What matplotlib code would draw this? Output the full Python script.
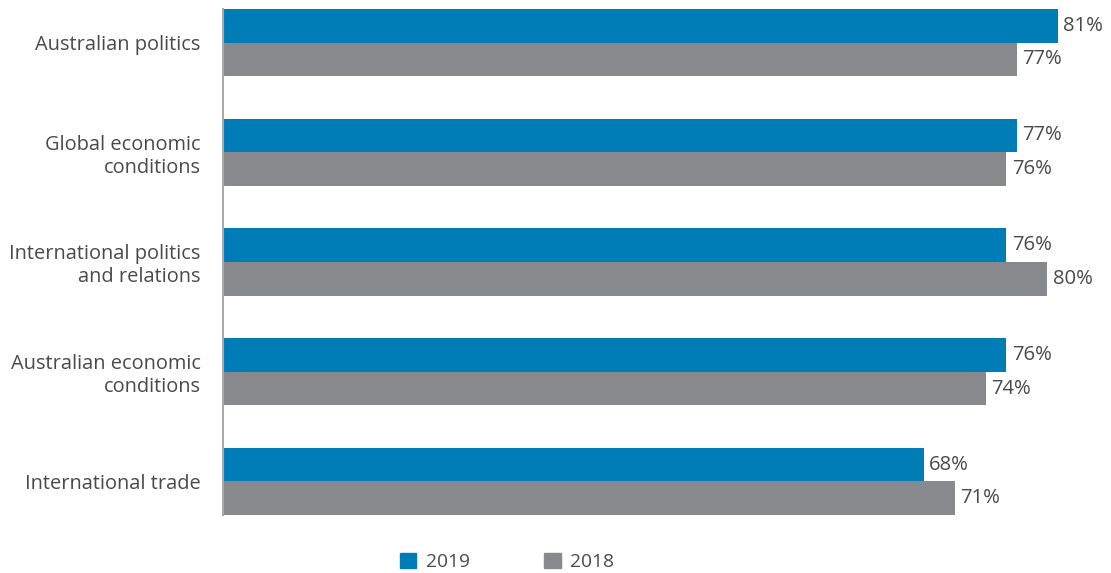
import matplotlib
matplotlib.use("Agg")
import matplotlib.pyplot as plt
from matplotlib.patches import Patch
import numpy as np

categories = ["Australian politics", "Global economic\nconditions",
              "International politics\nand relations", "Australian economic\nconditions",
              "International trade"]
vals_2019 = [81, 77, 76, 76, 68]
vals_2018 = [77, 76, 80, 74, 71]

blue = "#007DB6"
grey = "#87898C"
txt = "#4a4a4a"

plt.rcParams['font.family'] = ['Open Sans', 'DejaVu Sans']

fig = plt.figure(figsize=(11.11, 5.73), dpi=100)
ax = fig.add_axes([223/1111, 1-515/573, 876/1111, (515-9)/573])

y = np.arange(len(categories))
h = 0.306
b1 = ax.barh(y - h/2, vals_2019, height=h, color=blue)
b2 = ax.barh(y + h/2, vals_2018, height=h, color=grey)

for bars in (b1, b2):
    for bar in bars:
        w = bar.get_width()
        ax.annotate(f"{w:.0f}%", (w, bar.get_y() + bar.get_height()/2),
                    xytext=(4, 0), textcoords="offset points",
                    va="center", ha="left", fontsize=14.6, color=txt)

ax.set_xlim(0, 85)
ax.set_ylim(len(categories) - 1 + h, -h)
ax.set_yticks(y)
ax.set_yticklabels(categories, fontsize=14.4, color=txt, ha="right")
ax.tick_params(axis="y", length=0, pad=16)
ax.set_xticks([])
for s in ["top", "right", "bottom"]:
    ax.spines[s].set_visible(False)
ax.spines["left"].set_color("#aaaaaa")
ax.spines["left"].set_linewidth(1.5)

handles = [Patch(color=blue, label="2019"), Patch(color=grey, label="2018")]
leg = fig.legend(handles=handles, loc="center", ncol=2,
                 bbox_to_anchor=(507/1111, 1-562/573), frameon=False,
                 fontsize=13.8, handlelength=0.85, handleheight=0.85,
                 handletextpad=0.5, columnspacing=3.9)
for t in leg.get_texts():
    t.set_color(txt)

fig.savefig("out.png", dpi=100)
